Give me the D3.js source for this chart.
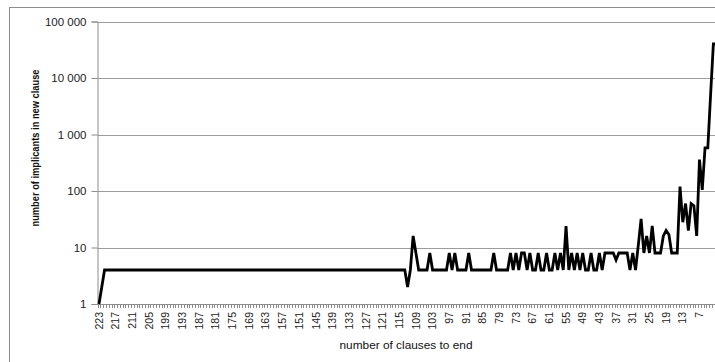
<!DOCTYPE html>
<html><head><meta charset="utf-8">
<script src="https://cdnjs.cloudflare.com/ajax/libs/d3/7.8.5/d3.min.js"></script>
<style>html,body{margin:0;padding:0;background:#fff;overflow:hidden}</style>
</head><body>
<script>
// categories: number of clauses to end (223 down to 1)
const categories = d3.range(223, 0, -1);
// tick labels shown every 6 categories (223 ... 7)
const tickLabels = d3.range(223, 6, -6);
const yTicks = [1, 10, 100, 1000, 10000, 100000];
const yTickLabels = ["1", "10", "100", "1 000", "10 000", "100 000"];
// values, in the same order as categories
const flat221to113 = new Array(109).fill(4);
const values = [1, 2].concat(flat221to113, [
  2, 4, 16, 8, 4, 4, 4, 4, 8, 4, 4, 4, 4, 4, 4, 8, 4, 8, 4, 4, 4, 4, 8, // 112..90
  4, 4, 4, 4, 4, 4, 4, 4, 8, 4, 4, 4, 4, 4,                            // 89..76
  8, 4, 8, 4, 8, 8, 4, 8, 4, 4, 8, 4, 4, 8, 4, 4, 8, 4, 8, 4,           // 75..56
  24, 4, 8, 4, 8, 4, 8, 4, 4, 8, 4, 4, 8, 4, 8,                         // 55..41
  8, 8, 8, 6, 8, 8, 8, 8, 4, 8, 4, 11, 32, 8, 16, 8, 24, 8, 8, 8,      // 40..21
  16, 20, 17, 8, 8, 8, 120, 28, 60, 20, 60, 55, 16, 360, 105, 580, 580, 5000, 40000, 40000 // 20..1
]);
const seriesName = "number of implicants in new clause";

const W = 715, H = 362;
const svg = d3.select("body").append("svg").attr("width", W).attr("height", H)
  .style("font-family", "'Liberation Sans', Arial, sans-serif");
svg.append("rect").attr("width", W).attr("height", H).attr("fill", "#fff");
// chart area border
svg.append("rect").attr("x", 9.5).attr("y", 7.5).attr("width", 800).attr("height", 400)
  .attr("fill", "none").attr("stroke", "#8c8c8c").attr("stroke-width", 1);

const plotLeft = 97.6, step = 2.78, plotTop = 21.5, plotBottom = 304;
const x = d3.scaleBand().domain(categories).range([plotLeft, plotLeft + categories.length * step]).padding(0);
const y = d3.scaleLog().domain([1, 100000]).range([plotBottom, plotTop]);
const cx = c => x(c) + x.bandwidth() / 2;

// gridlines
svg.append("g").selectAll("line").data(yTicks.slice(1)).join("line")
  .attr("x1", plotLeft).attr("x2", W + 20)
  .attr("y1", d => Math.round(y(d)) + 0.5).attr("y2", d => Math.round(y(d)) + 0.5)
  .attr("stroke", "#9c9c9c").attr("stroke-width", 1);

// y axis
const yAxis = d3.axisLeft(y).tickValues(yTicks).tickFormat((d, i) => yTickLabels[i]).tickSize(6).tickPadding(5);
const gy = svg.append("g").attr("transform", `translate(${Math.round(plotLeft) - 0.5},0)`).call(yAxis);
gy.select(".domain").attr("stroke", "#8c8c8c");
gy.selectAll(".tick line").attr("stroke", "#8c8c8c");
gy.selectAll(".tick text").attr("font-size", 11.5).attr("fill", "#222")
  .attr("font-family", "'Liberation Sans', Arial, sans-serif");

// x axis line
svg.append("line").attr("x1", plotLeft - 1).attr("x2", W + 20).attr("y1", plotBottom + 0.5).attr("y2", plotBottom + 0.5)
  .attr("stroke", "#8c8c8c");
// x minor ticks at each category boundary
svg.append("g").selectAll("line").data(d3.range(categories.length + 1)).join("line")
  .attr("x1", i => Math.round(plotLeft + i * step) + 0.5).attr("x2", i => Math.round(plotLeft + i * step) + 0.5)
  .attr("y1", plotBottom).attr("y2", plotBottom + 4)
  .attr("stroke", "#8c8c8c").attr("stroke-width", 1);
// x tick labels
svg.append("g").selectAll("text").data(tickLabels).join("text")
  .attr("transform", d => `translate(${cx(d)},${plotBottom + 8}) rotate(-90)`)
  .attr("text-anchor", "end").attr("dy", "0.35em")
  .attr("font-size", 10.5).attr("fill", "#222").text(d => d);

// line
const line = d3.line().x((d, i) => cx(categories[i])).y(d => y(d));
svg.append("path").datum(values).attr("d", line)
  .attr("fill", "none").attr("stroke", "#000").attr("stroke-width", 2.8)
  .attr("stroke-linejoin", "miter").attr("stroke-miterlimit", 3);

// axis titles
svg.append("text").attr("x", 406).attr("y", 349).attr("text-anchor", "middle")
  .attr("font-size", 11).attr("fill", "#111").attr("textLength", 133).attr("lengthAdjust", "spacingAndGlyphs")
  .text("number of clauses to end");
svg.append("text").attr("transform", "translate(39,148) rotate(-90)").attr("text-anchor", "middle")
  .attr("font-size", 11).attr("font-weight", "bold").attr("fill", "#111")
  .attr("textLength", 157).attr("lengthAdjust", "spacingAndGlyphs")
  .text(seriesName);
</script>
</body></html>
